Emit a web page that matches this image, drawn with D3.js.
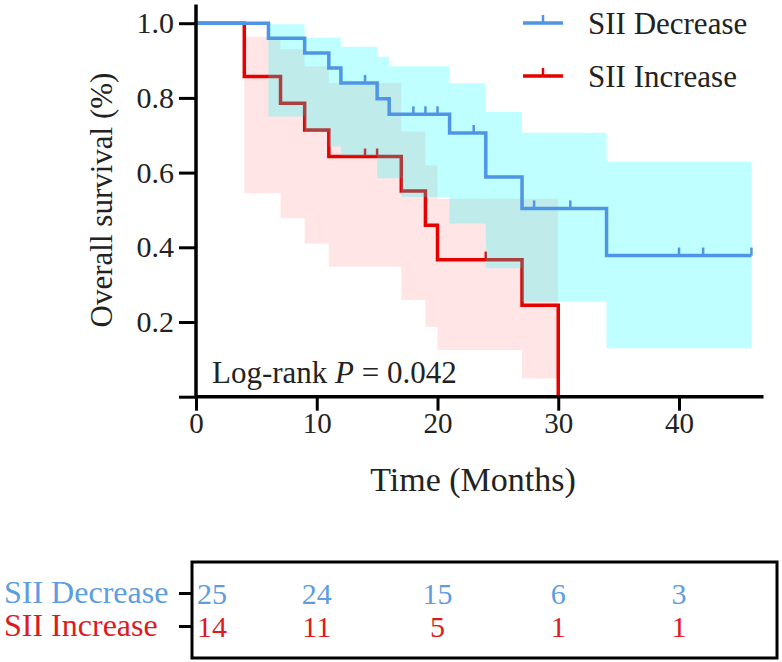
<!DOCTYPE html>
<html>
<head>
<meta charset="utf-8">
<script src="https://cdn.jsdelivr.net/npm/d3@7"></script>
<style>
  body { margin: 0; background: #fff; }
  svg { display: block; }
  text { font-family: "Liberation Serif", "Times New Roman", serif; }
</style>
</head>
<body>
<svg id="chart"></svg>
<script>
// Kaplan-Meier steps: [month, survival]
const groups = ["SII Decrease", "SII Increase"];
const decreaseSteps = [[0, 1], [6, 0.96], [9, 0.92], [11, 0.88], [12, 0.84], [15, 0.798], [16, 0.756], [21, 0.706], [24, 0.588], [27, 0.504], [34, 0.378], [46, 0.378]];
const decreaseCensored = [14, 18, 19, 20, 23, 28, 31, 40, 42, 46];
// [month, lower, upper] of the 95% band
const decreaseBand = [[6, 0.75, 0.997], [9, 0.71, 0.961], [11, 0.67, 0.961], [12, 0.645, 0.937], [15, 0.585, 0.91], [16, 0.585, 0.885], [17, 0.535, 0.885], [21, 0.464, 0.839], [24, 0.344, 0.763], [27, 0.254, 0.707], [34, 0.13, 0.629], [46, 0.13, 0.629]];

const increaseSteps = [[0, 1], [4, 0.857], [7, 0.786], [9, 0.714], [11, 0.643], [17, 0.551], [19, 0.459], [20, 0.367], [27, 0.245], [30, 0]];
const increaseCensored = [14, 15, 24];
const increaseBand = [[4, 0.545, 0.964], [7, 0.478, 0.93], [9, 0.41, 0.885], [11, 0.348, 0.84], [17, 0.259, 0.71], [19, 0.187, 0.62], [20, 0.125, 0.53], [27, 0.049, 0.53], [30, 0.049, 0.53]];

const xTicks = [0, 10, 20, 30, 40];
const yTicks = [0, 0.2, 0.4, 0.6, 0.8, 1.0];
const riskTimes = [0, 10, 20, 30, 40];
const riskDecrease = [25, 24, 15, 6, 3];
const riskIncrease = [14, 11, 5, 1, 1];
const pText = "0.042";

const width = 782, height = 662;
const blue = "#4f95e6", red = "#e60000";
const blueText = "#5d9de0", redText = "#dd1a1e";

const svg = d3.select("#chart")
    .attr("width", width)
    .attr("height", height);

const x = d3.scaleLinear().domain([0, 40]).range([196, 679]);
const y = d3.scaleLinear().domain([0, 1]).range([396.7, 23.2]);

// survival value at time t (step after)
function survAt(steps, t) {
  let s = steps[0][1];
  steps.forEach(d => { if (d[0] <= t) s = d[1]; });
  return s;
}

const band = d3.area()
    .curve(d3.curveStepAfter)
    .x(d => x(d[0]))
    .y0(d => y(d[1]))
    .y1(d => y(d[2]));

const line = d3.line()
    .curve(d3.curveStepAfter)
    .x(d => x(d[0]))
    .y(d => y(d[1]));

const plot = svg.append("g");

// red band + curve first, cyan band sits on top (tints the red line)
plot.append("path")
    .attr("d", band(increaseBand))
    .attr("fill", "#ff0000")
    .attr("fill-opacity", 0.1);

plot.append("path")
    .attr("d", line(increaseSteps))
    .attr("fill", "none")
    .attr("stroke", red)
    .attr("stroke-width", 3.5);

plot.append("g").selectAll("line")
    .data(increaseCensored)
    .join("line")
      .attr("x1", d => x(d)).attr("x2", d => x(d))
      .attr("y1", d => y(survAt(increaseSteps, d)))
      .attr("y2", d => y(survAt(increaseSteps, d)) - 8)
      .attr("stroke", red)
      .attr("stroke-width", 2.5);

plot.append("path")
    .attr("d", band(decreaseBand))
    .attr("fill", "#00ffff")
    .attr("fill-opacity", 0.25);

plot.append("path")
    .attr("d", line(decreaseSteps))
    .attr("fill", "none")
    .attr("stroke", blue)
    .attr("stroke-width", 3.5);

plot.append("g").selectAll("line")
    .data(decreaseCensored)
    .join("line")
      .attr("x1", d => x(d)).attr("x2", d => x(d))
      .attr("y1", d => y(survAt(decreaseSteps, d)))
      .attr("y2", d => y(survAt(decreaseSteps, d)) - 8)
      .attr("stroke", blue)
      .attr("stroke-width", 2.5);

// axes
const yAxis = svg.append("g")
    .attr("transform", `translate(${x(0)},0)`)
    .call(d3.axisLeft(y).tickValues(yTicks).tickSize(17).tickPadding(5)
      .tickFormat(d => d === 0 ? "" : d3.format(".1f")(d)));
yAxis.select(".domain").remove();
yAxis.selectAll(".tick line").attr("stroke", "#000").attr("stroke-width", 3);
yAxis.selectAll(".tick text").attr("font-size", 30).attr("fill", "#222")
    .attr("font-family", "Liberation Serif");

const xAxis = svg.append("g")
    .attr("transform", `translate(0,${y(0)})`)
    .call(d3.axisBottom(x).tickValues(xTicks).tickSize(14).tickPadding(2));
xAxis.select(".domain").remove();
xAxis.selectAll(".tick line").attr("stroke", "#000").attr("stroke-width", 3);
xAxis.selectAll(".tick text").attr("font-size", 29).attr("fill", "#222")
    .attr("font-family", "Liberation Serif");

svg.append("line")
    .attr("x1", x(0)).attr("x2", x(0))
    .attr("y1", y(1.05)).attr("y2", y(0) + 1.5)
    .attr("stroke", "#000").attr("stroke-width", 3.5);
svg.append("line")
    .attr("x1", x(0)).attr("x2", x(47))
    .attr("y1", y(0)).attr("y2", y(0))
    .attr("stroke", "#000").attr("stroke-width", 3.5);

svg.append("text")
    .attr("transform", `translate(112,200) rotate(-90)`)
    .attr("text-anchor", "middle")
    .attr("font-size", 31)
    .attr("fill", "#222")
    .text("Overall survival (%)");

svg.append("text")
    .attr("x", 473)
    .attr("y", 491)
    .attr("text-anchor", "middle")
    .attr("font-size", 34)
    .attr("fill", "#222")
    .text("Time (Months)");

const pLabel = svg.append("text")
    .attr("x", 212)
    .attr("y", 383)
    .attr("font-size", 31)
    .attr("fill", "#222");
pLabel.append("tspan").text("Log-rank ");
pLabel.append("tspan").attr("font-style", "italic").text("P");
pLabel.append("tspan").text(" = " + pText);

// legend
const legend = svg.append("g")
    .selectAll("g")
    .data(groups)
    .join("g")
      .attr("transform", (d, i) => `translate(523,${23 + i * 53})`);
legend.append("line")
    .attr("x1", 0).attr("x2", 40)
    .attr("stroke", (d, i) => i === 0 ? blue : red)
    .attr("stroke-width", 3.5);
legend.append("line")
    .attr("x1", 20).attr("x2", 20).attr("y1", 0).attr("y2", -8)
    .attr("stroke", (d, i) => i === 0 ? blue : red)
    .attr("stroke-width", 2.5);
legend.append("text")
    .attr("x", 65)
    .attr("y", 11)
    .attr("font-size", 31)
    .attr("fill", "#222")
    .text(d => d);

// number at risk table
const rowY = d3.scalePoint().domain(groups).range([593, 626]);
const tableTop = 562, tableBottom = 658, tableRight = 777;

svg.append("rect")
    .attr("x", x(0) - 4).attr("y", tableTop)
    .attr("width", tableRight - x(0) + 4).attr("height", tableBottom - tableTop)
    .attr("fill", "none").attr("stroke", "#000").attr("stroke-width", 3);

const rowAxis = svg.append("g")
    .attr("transform", `translate(${x(0) - 4},0)`)
    .call(d3.axisLeft(rowY).tickSize(13).tickFormat(""));
rowAxis.select(".domain").remove();
rowAxis.selectAll(".tick line").attr("stroke", "#000").attr("stroke-width", 3);

const rowColors = [blueText, redText];
const riskRows = [riskDecrease, riskIncrease];

svg.append("g").selectAll("text")
    .data(groups)
    .join("text")
      .attr("x", 4)
      .attr("y", d => rowY(d) + 10)
      .attr("font-size", 32)
      .attr("fill", (d, i) => rowColors[i])
      .text(d => d);

groups.forEach((g, gi) => {
  svg.append("g").selectAll("text")
    .data(riskTimes)
    .join("text")
      .attr("x", (d, i) => i === 0 ? x(d) + 1 : x(d))
      .attr("y", rowY(g) + 11)
      .attr("text-anchor", (d, i) => i === 0 ? "start" : "middle")
      .attr("font-size", 30)
      .attr("fill", rowColors[gi])
      .text((d, i) => riskRows[gi][i]);
});
</script>
</body>
</html>
